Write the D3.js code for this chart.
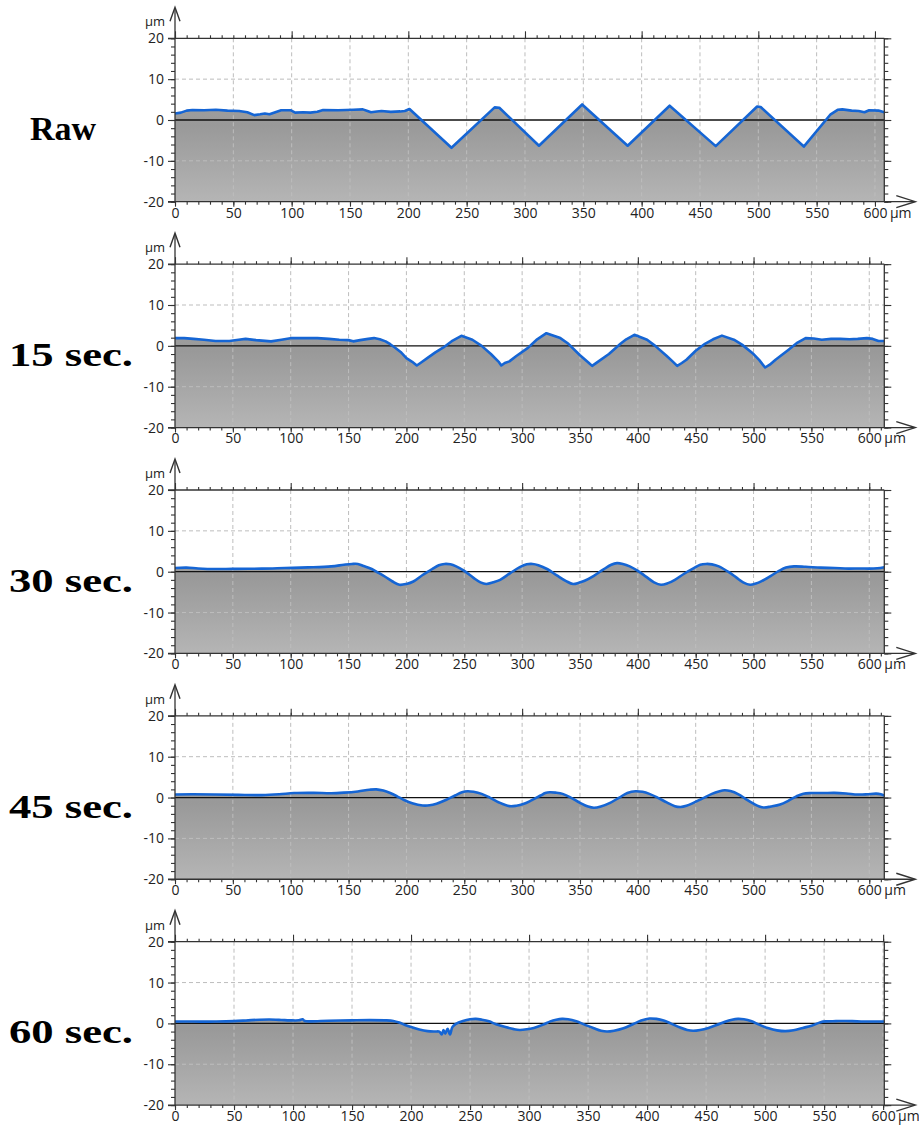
<!DOCTYPE html>
<html>
<head>
<meta charset="utf-8">
<script src="https://cdn.jsdelivr.net/npm/d3@7"></script>
<style>
  body { margin: 0; background: #fff; }
  svg { display: block; }
</style>
</head>
<body>
<svg id="chart" width="919" height="1129"></svg>
<script>
// Surface profiles (height in µm vs. position in µm) after successive polishing times
const panelLabels = ["Raw", "15 sec.", "30 sec.", "45 sec.", "60 sec."];
const xExtents = [608, 613, 613, 613, 601];
const yMajorTicks = [-20, -10, 0, 10, 20];
const yGridLines = [-10, 10];
const xTickLabels = [0, 50, 100, 150, 200, 250, 300, 350, 400, 450, 500, 550, 600];
const unitLabel = "µm";

const profileRaw = [
  [0,1.6],[5,1.8],[10,2.3],[15,2.45],[25,2.4],[35,2.5],[45,2.3],[55,2.2],[62,1.9],[68,1.2],
  [73,1.4],[77,1.6],[81,1.4],[86,1.9],[91,2.4],[99,2.4],[103,1.8],[110,1.9],[116,1.8],[122,2.0],
  [127,2.45],[140,2.4],[153,2.5],[161,2.6],[165,2.2],[168,1.9],[173,2.1],[177,2.2],[185,2.0],
  [193,2.1],[197,2.2],[201,2.7],[237,-6.8],[274,3.1],[278,3.0],[312,-6.3],[349,3.8],[388,-6.3],
  [424,3.5],[463.5,-6.4],[499,3.3],[502,3.2],[539,-6.5],[562,1.4],[568,2.5],[572,2.6],[580,2.3],
  [586,2.2],[591,1.9],[595,2.4],[603,2.3],[608,1.9]
];

const profile15 = [
  [0,1.9],[8,1.9],[16,1.7],[25,1.5],[35,1.2],[47,1.2],[55,1.5],[61,1.7],[70,1.4],[83,1.1],
  [92,1.5],[101,1.9],[112,1.9],[123,1.9],[133,1.7],[142,1.5],[150,1.4],[154,1.1],[160,1.4],
  [167,1.7],[172,1.9],[177,1.6],[182,1.1],[186,0.4],[190,-0.4],[195,-1.5],[200,-3.0],[205,-3.9],
  [209,-4.8],[213,-4.0],[218,-3.0],[225,-1.6],[232,-0.4],[240,1.3],[247.5,2.45],[257,1.5],
  [265,0.0],[273,-2.0],[280,-4.0],[282,-4.8],[285,-4.2],[289,-3.8],[295,-2.5],[305,-0.5],
  [313,1.6],[321,3.1],[333,1.9],[340,0.5],[350,-2.3],[357,-4.0],[360.5,-4.9],[366,-3.8],
  [375,-2.0],[385,0.5],[390,1.6],[397,2.7],[408,1.5],[415,0.0],[425,-2.5],[430,-3.8],[434,-4.9],
  [438,-4.2],[442,-3.4],[450,-1.2],[458,0.5],[465,1.6],[472.7,2.5],[483,1.5],[490,0.3],
  [500,-2.0],[505,-3.5],[510,-5.3],[514,-4.6],[519,-3.4],[530,-1.0],[538,0.8],[545,1.9],
  [552,1.8],[559,1.5],[567,1.7],[575,1.7],[583,1.6],[590,1.7],[598,1.9],[603,1.7],[608,1.2],[613,1.2]
];

const profile30 = [
  [0,0.9],[10,1.0],[20,0.8],[35,0.65],[50,0.7],[75,0.75],[95,0.9],[115,1.05],[135,1.3],[146,1.7],
  [153,1.9],[158,1.9],[163,1.4],[170,0.65],[176,-0.3],[182,-1.3],[188,-2.4],[194,-3.2],[200,-3.0],
  [206,-2.4],[214,-0.8],[222,0.6],[228,1.6],[233,1.9],[238,1.8],[243,1.3],[250,0.2],[258,-1.5],
  [264,-2.6],[269,-3.0],[275,-2.6],[281,-2.0],[290,-0.3],[298,1.1],[304,1.8],[309,1.9],[314,1.6],
  [322,0.6],[330,-0.9],[338,-2.3],[344,-3.0],[349,-2.7],[354,-2.2],[362,-1.0],[370,0.5],[377,1.7],
  [382,2.1],[387,1.9],[393,1.3],[400,0.2],[407,-1.2],[414,-2.6],[420,-3.2],[426,-2.8],[432,-2.0],
  [440,-0.5],[448,0.8],[454,1.7],[459,1.9],[464,1.8],[470,1.3],[478,0.0],[485,-1.4],[491,-2.6],
  [497,-3.2],[502,-2.9],[507,-2.3],[515,-1.0],[522,0.2],[528,1.0],[535,1.3],[545,1.2],[558,1.0],
  [570,0.9],[582,0.75],[592,0.8],[600,0.75],[607,0.85],[613,1.1]
];

const profile45 = [
  [0,0.75],[15,0.8],[35,0.75],[55,0.65],[75,0.6],[90,0.8],[103,1.1],[120,1.15],[135,1.05],[146,1.2],
  [158,1.5],[168,1.9],[174,2.0],[180,1.7],[186,1.1],[192,0.3],[198,-0.6],[205,-1.4],[214,-1.95],
  [220,-1.9],[226,-1.5],[234,-0.6],[242,0.5],[248,1.3],[253,1.55],[258,1.4],[265,0.9],[272,0.0],
  [280,-1.2],[289,-2.1],[295,-2.0],[301,-1.6],[308,-0.7],[316,0.5],[320,1.1],[324,1.3],[329,1.2],
  [335,0.9],[342,0.0],[350,-1.3],[357,-2.2],[362,-2.5],[368,-2.2],[376,-1.3],[384,0.0],[391,1.1],
  [398,1.55],[404,1.4],[410,0.9],[417,0.0],[425,-1.2],[432,-2.1],[437,-2.3],[442,-2.0],[448,-1.3],
  [456,-0.2],[464,0.9],[470,1.5],[475,1.8],[480,1.6],[487,0.8],[493,-0.3],[500,-1.5],[505,-2.2],
  [509,-2.45],[515,-2.2],[523,-1.7],[530,-0.8],[537,0.3],[543,0.95],[550,1.1],[560,1.1],[570,1.15],
  [580,1.0],[590,0.75],[598,0.8],[606,0.95],[610,0.8],[613,0.5]
];

const profile60 = [
  [0,0.45],[15,0.45],[35,0.45],[50,0.55],[62,0.75],[72,0.9],[80,0.95],[90,0.85],[97,0.75],[105,0.75],
  [108,1.0],[110,0.6],[115,0.5],[130,0.65],[150,0.75],[165,0.8],[178,0.75],[185,0.6],[190,0.2],
  [195,-0.4],[200,-0.9],[207,-1.5],[214,-1.9],[220,-2.0],[224,-2.0],[226,-2.7],[227.5,-1.6],
  [229,-2.5],[231,-1.3],[233,-2.7],[235,-0.9],[238,-0.1],[244,0.6],[250,1.0],[255,1.1],[260,0.9],
  [266,0.5],[272,-0.2],[280,-0.9],[287,-1.4],[292,-1.6],[298,-1.45],[304,-1.1],[312,-0.3],[318,0.5],
  [323,0.9],[328,1.1],[333,1.0],[340,0.5],[347,-0.3],[355,-1.2],[361,-1.8],[366,-2.0],[372,-1.8],
  [380,-1.2],[388,-0.2],[395,0.7],[402,1.2],[408,1.1],[414,0.7],[420,0.0],[428,-1.0],[434,-1.6],
  [439,-1.8],[445,-1.6],[452,-1.1],[459,-0.4],[466,0.4],[472,0.9],[477,1.1],[482,1.0],[488,0.6],
  [495,-0.3],[503,-1.2],[510,-1.7],[517,-1.9],[524,-1.7],[532,-1.1],[540,-0.5],[547,0.3],[552,0.5],
  [560,0.55],[568,0.6],[578,0.5],[588,0.45],[595,0.45],[601,0.45]
];

const profiles = [profileRaw, profile15, profile30, profile45, profile60];
const smoothed = [false, false, true, true, true];

// ---- layout ----
const plotLeft = 175, plotRight = 884.3;
const plotHeight = 163.4, firstTop = 38.3, panelStep = 225.85;
const axisColor = "#333";
const tickFont = "'Open Sans', 'DejaVu Sans', sans-serif";
const tickFontSize = 14;
const titleFont = "'Liberation Serif', 'Times New Roman', serif";

const svg = d3.select("#chart");
const defs = svg.append("defs");

profiles.forEach((data, i) => {
  const top = firstTop + i * panelStep;
  const bottom = top + plotHeight;
  const x = d3.scaleLinear().domain([0, xExtents[i]]).range([plotLeft, plotRight]);
  const y = d3.scaleLinear().domain([-20, 20]).range([bottom, top]);
  const g = svg.append("g");

  // vertical shading under the profile
  const grad = defs.append("linearGradient")
    .attr("id", "fill" + i).attr("gradientUnits", "userSpaceOnUse")
    .attr("x1", 0).attr("x2", 0).attr("y1", y(5)).attr("y2", y(-20));
  grad.append("stop").attr("offset", "0%").attr("stop-color", "#a0a0a0");
  grad.append("stop").attr("offset", "25%").attr("stop-color", "#999999");
  grad.append("stop").attr("offset", "100%").attr("stop-color", "#b5b5b5");

  defs.append("clipPath").attr("id", "clip" + i)
    .append("rect").attr("x", plotLeft).attr("y", top)
    .attr("width", plotRight - plotLeft).attr("height", plotHeight);

  const curve = smoothed[i] ? d3.curveCatmullRom.alpha(0.5) : d3.curveLinear;
  const area = d3.area().x(d => x(d[0])).y0(y(-20)).y1(d => y(d[1])).curve(curve);
  const line = d3.line().x(d => x(d[0])).y(d => y(d[1])).curve(curve);

  const plot = g.append("g").attr("clip-path", `url(#clip${i})`);
  plot.append("path").datum(data).attr("d", area).attr("fill", `url(#fill${i})`);

  // dashed grid
  const gridX = xTickLabels.filter(v => v > 0 && v < xExtents[i]);
  plot.selectAll(".vgrid").data(gridX).join("line")
    .attr("x1", d => x(d)).attr("x2", d => x(d)).attr("y1", top).attr("y2", bottom)
    .attr("stroke", "#bdbdbd").attr("stroke-width", 1).attr("stroke-dasharray", "4,3");
  plot.selectAll(".hgrid").data(yGridLines).join("line")
    .attr("x1", plotLeft).attr("x2", plotRight).attr("y1", d => y(d)).attr("y2", d => y(d))
    .attr("stroke", "#bdbdbd").attr("stroke-width", 1).attr("stroke-dasharray", "4,3");

  // zero reference
  plot.append("line").attr("x1", plotLeft).attr("x2", plotRight)
    .attr("y1", y(0)).attr("y2", y(0)).attr("stroke", "#111").attr("stroke-width", 1.3);

  // profile trace
  plot.append("path").datum(data).attr("d", line)
    .attr("fill", "none").attr("stroke", "#1565d4").attr("stroke-width", 2.6)
    .attr("stroke-linejoin", "round");

  // ---- axes ----
  const styleAxis = sel => {
    sel.selectAll("line").attr("stroke", axisColor).attr("stroke-width", 1.1);
    sel.selectAll("path.domain").remove();
    sel.selectAll("text").attr("fill", "#222").attr("font-family", tickFont).attr("font-size", tickFontSize);
  };
  const yMinor = d3.range(-20, 21, 2);
  const xMinor = d3.range(0, xExtents[i] + 0.1, 10);

  // left
  g.append("g").attr("transform", `translate(${plotLeft},0)`)
    .call(d3.axisLeft(y).tickValues(yMinor).tickSize(4).tickFormat("")).call(styleAxis);
  g.append("g").attr("transform", `translate(${plotLeft},0)`)
    .call(d3.axisLeft(y).tickValues(yMajorTicks).tickSize(7).tickPadding(4).tickFormat(d => String(d)))
    .call(styleAxis);
  // right
  g.append("g").attr("transform", `translate(${plotRight},0)`)
    .call(d3.axisRight(y).tickValues(yMinor).tickSize(4).tickFormat("")).call(styleAxis);
  g.append("g").attr("transform", `translate(${plotRight},0)`)
    .call(d3.axisRight(y).tickValues(yMajorTicks).tickSize(7).tickFormat("")).call(styleAxis);
  // top
  g.append("g").attr("transform", `translate(0,${top})`)
    .call(d3.axisTop(x).tickValues(xMinor).tickSize(3).tickFormat("")).call(styleAxis);
  g.append("g").attr("transform", `translate(0,${top})`)
    .call(d3.axisTop(x).tickValues(xMinor.filter(v => v % 100 === 0)).tickSize(7).tickFormat(""))
    .call(styleAxis);
  // bottom
  g.append("g").attr("transform", `translate(0,${bottom})`)
    .call(d3.axisBottom(x).tickValues(xMinor).tickSize(3).tickFormat("")).call(styleAxis);
  g.append("g").attr("transform", `translate(0,${bottom})`)
    .call(d3.axisBottom(x).tickValues(xTickLabels).tickSize(5).tickPadding(1).tickFormat(d => String(d)))
    .call(styleAxis);

  // frame lines
  const frame = g.append("g").attr("stroke", axisColor).attr("stroke-width", 1.3).attr("fill", "none");
  frame.append("line").attr("x1", plotLeft - 7).attr("x2", plotRight).attr("y1", top).attr("y2", top);
  frame.append("line").attr("x1", plotRight).attr("x2", plotRight).attr("y1", top).attr("y2", bottom);
  frame.append("line").attr("x1", plotLeft).attr("x2", plotLeft).attr("y1", bottom).attr("y2", top - 30);
  frame.append("line").attr("x1", plotLeft - 7).attr("x2", plotRight + 30).attr("y1", bottom).attr("y2", bottom);
  // arrow heads
  frame.append("path").attr("stroke-width", 1.4)
    .attr("d", `M${plotLeft - 5},${top - 17}L${plotLeft},${top - 31}L${plotLeft + 5},${top - 17}`);
  frame.append("path").attr("stroke-width", 1.4)
    .attr("d", `M${plotRight + 12},${bottom - 6}L${plotRight + 31},${bottom}L${plotRight + 12},${bottom + 6}`);

  // unit labels
  g.append("text").attr("x", plotLeft - 10).attr("y", top - 12).attr("text-anchor", "end")
    .attr("font-family", tickFont).attr("font-size", 13).attr("fill", "#222").text(unitLabel);
  g.append("text").attr("x", x(600) + 15).attr("y", bottom + 6).attr("dy", "0.71em")
    .attr("font-family", tickFont).attr("font-size", tickFontSize).attr("fill", "#222").text(unitLabel);

  // panel title
  const title = svg.append("text").attr("x", i === 0 ? 30 : 9).attr("y", y(0) + 20)
    .attr("font-family", titleFont).attr("font-weight", "bold")
    .attr("font-size", 34).attr("fill", "#000").text(panelLabels[i]);
  if (i > 0) title.attr("textLength", 124).attr("lengthAdjust", "spacingAndGlyphs");
});
</script>
</body>
</html>
